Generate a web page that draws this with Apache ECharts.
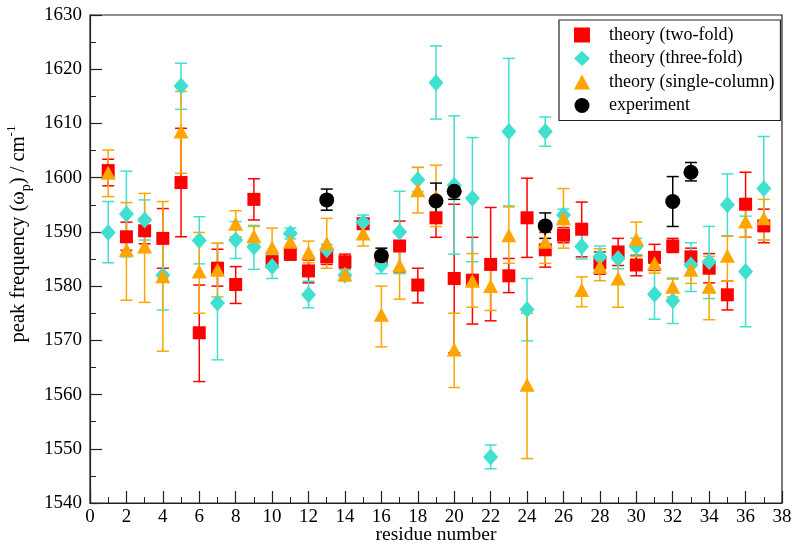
<!DOCTYPE html>
<html>
<head>
<meta charset="utf-8">
<script src="https://cdn.jsdelivr.net/npm/echarts@6/dist/echarts.min.js"></script>
<style>html,body{margin:0;padding:0;background:#fff}#c{width:800px;height:546px}</style>
</head>
<body>
<div id="c"></div>
<script>
const residues = [1,2,3,4,5,6,7,8,9,10,11,12,13,14,15,16,17,18,19,20,21,22,23,24,25,26,27,28,29,30,31,32,33,34,35,36,37];

const twoFold   = [1601.3,1589.1,1590.2,1588.8,1599.1,1571.4,1583.3,1580.3,1596.0,1584.5,1585.9,1582.8,1585.4,1584.5,1591.5,1585.0,1587.4,1580.2,1592.6,1581.4,1581.1,1584.0,1581.9,1592.6,1586.7,1589.4,1590.5,1584.3,1586.3,1583.9,1585.3,1587.4,1585.4,1583.3,1578.4,1595.1,1591.1];
const twoFoldLo = [1598.5,1586.6,1587.8,1583.3,1589.1,1562.4,1580.0,1576.8,1592.2,1583.5,1584.8,1580.6,1584.0,1583.2,1590.5,1584.0,1582.6,1576.9,1589.0,1567.7,1573.0,1573.6,1578.8,1585.3,1583.5,1588.0,1585.4,1582.2,1583.8,1581.9,1582.9,1586.2,1583.8,1580.6,1575.6,1589.0,1588.0];
const twoFoldHi = [1603.4,1591.8,1592.5,1594.3,1609.1,1580.2,1586.8,1583.6,1599.8,1585.5,1587.0,1584.8,1586.8,1585.9,1592.5,1586.3,1592.0,1583.3,1596.2,1595.1,1589.0,1594.5,1585.1,1599.9,1589.9,1590.8,1595.5,1586.3,1588.8,1585.7,1587.7,1588.8,1587.0,1586.0,1580.9,1601.0,1594.2];

const threeFold   = [1589.9,1593.3,1592.2,1582.0,1616.9,1588.4,1576.9,1588.5,1587.2,1583.6,1589.7,1578.4,1586.7,1582.0,1591.8,1583.9,1590.0,1599.6,1617.5,1598.6,1596.2,1548.5,1608.5,1575.7,1608.5,1593.1,1587.3,1585.4,1585.1,1587.3,1578.5,1577.3,1583.9,1584.5,1595.0,1582.7,1598.0];
const threeFoldLo = [1584.3,1585.4,1588.5,1575.6,1612.6,1584.1,1566.4,1585.1,1583.1,1581.4,1588.7,1576.0,1585.7,1581.0,1590.5,1582.3,1582.3,1597.4,1610.8,1585.9,1584.5,1546.3,1594.8,1569.9,1605.8,1592.0,1585.0,1583.4,1583.2,1585.8,1573.9,1573.1,1579.0,1577.7,1589.3,1572.5,1588.5];
const threeFoldHi = [1595.6,1601.2,1595.9,1588.5,1621.1,1592.8,1587.9,1591.9,1591.2,1585.8,1590.7,1580.9,1587.7,1583.0,1593.1,1585.4,1597.5,1601.9,1624.3,1611.4,1607.4,1550.7,1622.0,1581.4,1611.2,1594.2,1589.5,1587.4,1587.0,1588.8,1583.1,1581.5,1588.0,1591.0,1600.7,1592.9,1607.6];

const singleCol   = [1600.9,1586.7,1587.3,1581.8,1608.5,1582.7,1583.0,1591.5,1589.2,1587.1,1588.2,1586.2,1587.9,1582.2,1589.7,1574.7,1583.8,1597.7,1596.5,1568.3,1581.0,1580.0,1589.4,1561.8,1588.2,1592.5,1579.3,1583.6,1581.4,1588.7,1584.2,1579.9,1583.0,1579.9,1585.6,1591.9,1592.5];
const singleColLo = [1596.5,1577.4,1577.0,1568.0,1600.8,1575.0,1578.0,1589.1,1587.6,1583.6,1586.8,1584.3,1583.3,1581.0,1587.4,1568.8,1577.6,1593.5,1591.0,1561.3,1576.1,1575.5,1584.2,1548.2,1584.2,1587.0,1576.2,1581.0,1576.1,1585.5,1582.4,1578.0,1580.5,1573.8,1580.9,1589.0,1588.5];
const singleColHi = [1605.1,1595.4,1597.1,1595.6,1615.9,1589.9,1587.9,1593.9,1591.0,1590.7,1589.6,1588.3,1592.5,1583.4,1592.0,1580.0,1590.0,1601.9,1602.3,1575.0,1586.0,1584.2,1594.6,1575.0,1590.5,1598.0,1581.7,1586.9,1585.2,1591.8,1585.4,1581.3,1584.8,1585.5,1589.2,1594.3,1596.0];

const expResidues = [13,16,19,20,25,32,33];
const experiment  = [1595.9,1585.6,1595.7,1597.5,1591.1,1595.6,1601.0];
const experimentLo= [1594.0,1584.4,1592.4,1596.0,1588.8,1591.0,1599.4];
const experimentHi= [1597.9,1587.0,1599.0,1598.5,1593.5,1600.2,1602.8];

const seriesNames = ['theory (two-fold)','theory (three-fold)','theory (single-column)','experiment'];
const xTicks = {min:0, max:38, interval:2};
const yTicks = {min:1540, max:1630, interval:10};

const FONT = '"Liberation Serif","Times New Roman",serif';

function errData(xs, lo, hi){ return xs.map((x,i)=>[x, lo[i], hi[i]]); }
function ptData(xs, v){ return xs.map((x,i)=>[x, v[i]]); }

function errSeries(name, color, data){
  return {
    type:'custom', name:name+' err', data:data, z:2,
    renderItem:function(params, api){
      const x = api.value(0), lo = api.value(1), hi = api.value(2);
      const pLo = api.coord([x, lo]), pHi = api.coord([x, hi]);
      const hw = 6;
      const st = {stroke:color, lineWidth:1.5};
      return {type:'group', children:[
        {type:'line', shape:{x1:pLo[0],y1:pLo[1],x2:pHi[0],y2:pHi[1]}, style:st},
        {type:'line', shape:{x1:pLo[0]-hw,y1:pLo[1],x2:pLo[0]+hw,y2:pLo[1]}, style:st},
        {type:'line', shape:{x1:pHi[0]-hw,y1:pHi[1],x2:pHi[0]+hw,y2:pHi[1]}, style:st}
      ]};
    },
    silent:true
  };
}
function ptSeries(name, color, symbol, size, data){
  return {type:'scatter', name:name, data:data, symbol:symbol, symbolSize:size, z:3,
    itemStyle:{color:color, opacity:1}};
}

const colors = ['#ff0000','#40e0d0','#ffa500','#000000'];

const option = {
  animation:false,
  backgroundColor:'#fff',
  grid:{left:90, right:18, top:15, bottom:43, containLabel:false, outerBoundsMode:'none',
    show:true, borderColor:'#222', borderWidth:1.2, backgroundColor:'transparent'},
  xAxis:{
    type:'value', min:xTicks.min, max:xTicks.max, interval:xTicks.interval,
    name:'residue number', nameLocation:'middle', nameGap:22, nameMoveOverlap:false,
    nameTextStyle:{fontFamily:FONT, fontSize:19.5, color:'#000'},
    axisLine:{show:true, lineStyle:{color:'#222', width:1.2}},
    axisTick:{show:true, inside:true, length:12, lineStyle:{color:'#222', width:1.2}},
    minorTick:{show:true, splitNumber:2, length:6, lineStyle:{color:'#222', width:1}},
    splitLine:{show:false},
    axisLabel:{fontFamily:FONT, fontSize:19, color:'#000', margin:5}
  },
  yAxis:{
    type:'value', min:yTicks.min, max:yTicks.max, interval:yTicks.interval,
    name:'{a|peak frequency (ω}{sub|p}{a|) / cm}{sup|-1}', nameLocation:'middle', nameGap:48, nameRotate:90,
    nameTextStyle:{fontFamily:FONT, fontSize:20.5, color:'#000', padding:[0,0,0,50],
      rich:{
        a:{fontFamily:FONT, fontSize:20.5, color:'#000', lineHeight:28, verticalAlign:'middle'},
        sub:{fontFamily:FONT, fontSize:14, color:'#000', lineHeight:15, verticalAlign:'bottom'},
        sup:{fontFamily:FONT, fontSize:13, color:'#000', lineHeight:13, verticalAlign:'top'}
      }},
    axisLine:{show:true, lineStyle:{color:'#222', width:1.2}},
    axisTick:{show:true, inside:true, length:12, lineStyle:{color:'#222', width:1.2}},
    minorTick:{show:true, splitNumber:2, length:6, lineStyle:{color:'#222', width:1}},
    splitLine:{show:false},
    axisLabel:{fontFamily:FONT, fontSize:19, color:'#000', margin:8, formatter:function(v){return String(v);}}
  },
  legend:{
    data:seriesNames, orient:'vertical', left:559, top:20,
    padding:[6,6,6,15], itemGap:5.5, itemWidth:16, itemHeight:15,
    backgroundColor:'#fff', borderColor:'#222', borderWidth:1.2,
    textStyle:{fontFamily:FONT, fontSize:18, color:'#000', padding:[0,0,0,14]},
    selectedMode:false
  },
  series:[
    errSeries(seriesNames[0], colors[0], errData(residues, twoFoldLo, twoFoldHi)),
    ptSeries(seriesNames[0], colors[0], 'rect', 13, ptData(residues, twoFold)),
    errSeries(seriesNames[1], colors[1], errData(residues, threeFoldLo, threeFoldHi)),
    ptSeries(seriesNames[1], colors[1], 'diamond', [15,17], ptData(residues, threeFold)),
    errSeries(seriesNames[2], colors[2], errData(residues, singleColLo, singleColHi)),
    ptSeries(seriesNames[2], colors[2], 'triangle', [15,14], ptData(residues, singleCol)),
    errSeries(seriesNames[3], colors[3], errData(expResidues, experimentLo, experimentHi)),
    ptSeries(seriesNames[3], colors[3], 'circle', 15, ptData(expResidues, experiment))
  ]
};

const chart = echarts.init(document.getElementById('c'), null, {renderer:'canvas'});
chart.setOption(option);
</script>
</body>
</html>
